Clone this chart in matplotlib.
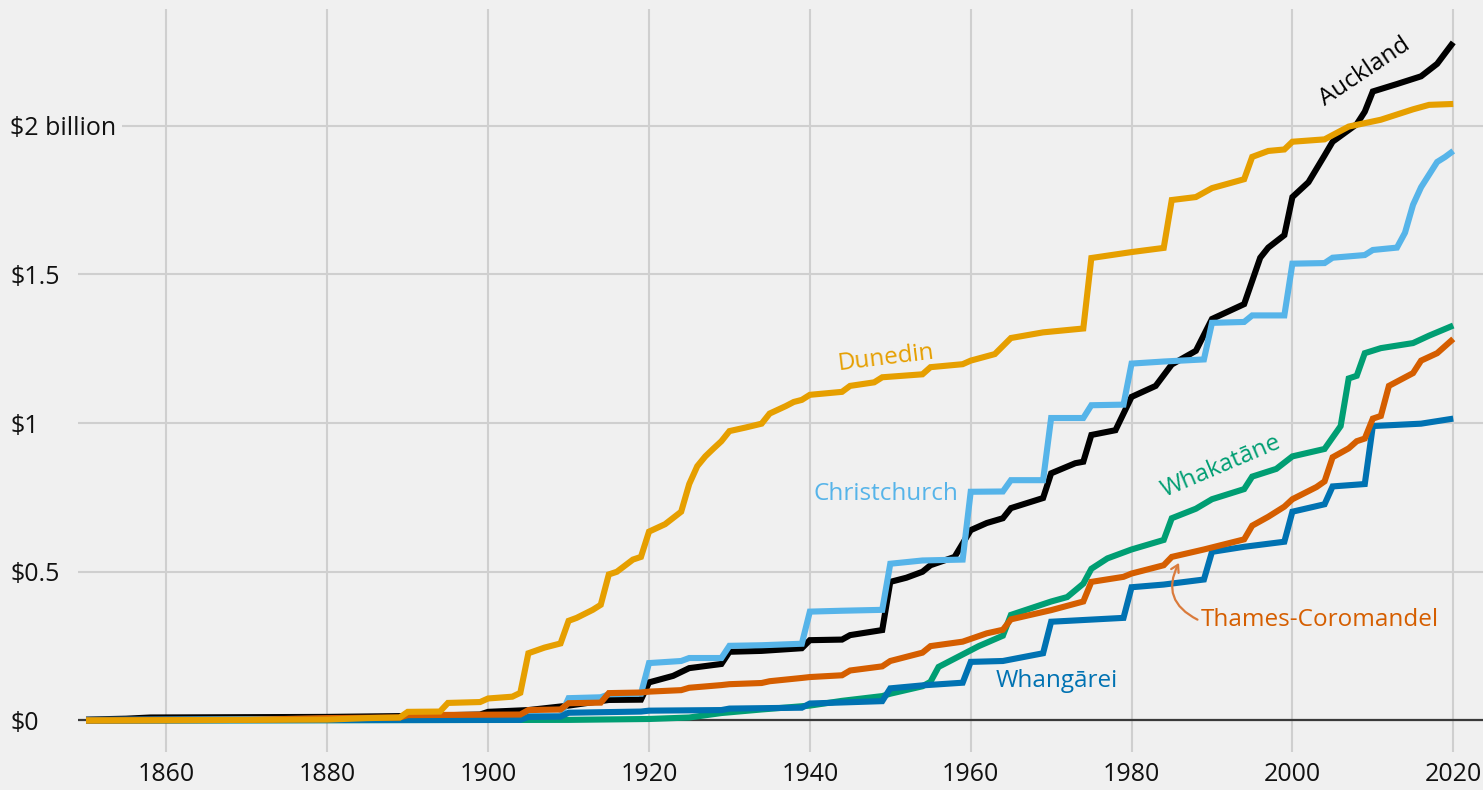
import matplotlib
matplotlib.use("Agg")
import matplotlib.pyplot as plt
from matplotlib.patches import FancyArrowPatch

plt.rcParams['font.family'] = ['Open Sans', 'DejaVu Sans']

# ---- data (year, cumulative value in $ billion) ----
auckland_years = [1850, 1855, 1858, 1880, 1890, 1899, 1900, 1905, 1910, 1915, 1919, 1920, 1923, 1925, 1929, 1930,
                  1934, 1939, 1940, 1944, 1945, 1949, 1950, 1952, 1954, 1955, 1958, 1960, 1962, 1964, 1965, 1969,
                  1970, 1973, 1974, 1975, 1978, 1980, 1983, 1985, 1988, 1990, 1994, 1996, 1997, 1999, 2000, 2002,
                  2004, 2005, 2008, 2009, 2010, 2013, 2016, 2018, 2020]
auckland_vals = [0.003, 0.006, 0.01, 0.012, 0.015, 0.02, 0.029, 0.035, 0.05, 0.069, 0.07, 0.128, 0.15, 0.176, 0.19, 0.231,
                 0.234, 0.243, 0.27, 0.272, 0.287, 0.304, 0.466, 0.48, 0.5, 0.522, 0.55, 0.64, 0.664, 0.68, 0.714, 0.748,
                 0.831, 0.865, 0.87, 0.96, 0.976, 1.088, 1.125, 1.197, 1.243, 1.35, 1.4, 1.556, 1.59, 1.632, 1.76, 1.81,
                 1.9, 1.946, 2.005, 2.047, 2.115, 2.14, 2.166, 2.208, 2.28]

dunedin_years = [1850, 1880, 1885, 1889, 1890, 1894, 1895, 1899, 1900, 1903, 1904, 1905, 1907, 1909, 1910, 1911, 1913,
                 1914, 1915, 1916, 1918, 1919, 1920, 1922, 1924, 1925, 1926, 1927, 1928, 1929, 1930, 1932, 1934, 1935,
                 1937, 1938, 1939, 1940, 1942, 1944, 1945, 1948, 1949, 1954, 1955, 1959, 1960, 1963, 1965, 1969, 1974,
                 1975, 1980, 1984, 1985, 1988, 1990, 1994, 1995, 1997, 1999, 2000, 2004, 2007, 2011, 2015, 2017, 2020]
dunedin_vals = [0.0, 0.003, 0.008, 0.01, 0.029, 0.03, 0.059, 0.062, 0.074, 0.08, 0.093, 0.226, 0.245, 0.259, 0.335, 0.345,
                0.372, 0.389, 0.491, 0.5, 0.541, 0.55, 0.635, 0.66, 0.702, 0.795, 0.855, 0.888, 0.914, 0.939, 0.973,
                0.985, 0.998, 1.032, 1.057, 1.071, 1.078, 1.095, 1.1, 1.105, 1.125, 1.137, 1.154, 1.164, 1.188, 1.198,
                1.21, 1.232, 1.286, 1.305, 1.318, 1.555, 1.575, 1.589, 1.75, 1.76, 1.79, 1.82, 1.895, 1.915, 1.92,
                1.946, 1.954, 1.997, 2.02, 2.055, 2.07, 2.073]

christchurch_years = [1850, 1900, 1905, 1909, 1910, 1914, 1915, 1919, 1920, 1924, 1925, 1929, 1930, 1934, 1939, 1940,
                      1944, 1949, 1950, 1954, 1959, 1960, 1964, 1965, 1969, 1970, 1974, 1975, 1979, 1980, 1984, 1989,
                      1990, 1994, 1995, 1999, 2000, 2004, 2005, 2009, 2010, 2013, 2014, 2015, 2016, 2018, 2019, 2020]
christchurch_vals = [0.002, 0.008, 0.015, 0.016, 0.075, 0.078, 0.088, 0.09, 0.193, 0.2, 0.21, 0.21, 0.251, 0.253, 0.258,
                     0.366, 0.369, 0.372, 0.527, 0.538, 0.541, 0.769, 0.77, 0.808, 0.808, 1.017, 1.017, 1.06, 1.062,
                     1.2, 1.207, 1.214, 1.337, 1.34, 1.362, 1.362, 1.536, 1.538, 1.556, 1.565, 1.582, 1.59, 1.64,
                     1.734, 1.793, 1.878, 1.895, 1.915]

thames_years = [1850, 1870, 1880, 1889, 1890, 1904, 1905, 1909, 1910, 1914, 1915, 1919, 1920, 1924, 1925, 1929, 1930,
                1934, 1935, 1939, 1940, 1944, 1945, 1949, 1950, 1954, 1955, 1959, 1962, 1964, 1965, 1970, 1974, 1975,
                1979, 1980, 1984, 1985, 1989, 1994, 1995, 1997, 1999, 2000, 2003, 2004, 2005, 2007, 2008, 2009, 2010,
                2011, 2012, 2015, 2016, 2018, 2020]
thames_vals = [0.0, 0.002, 0.008, 0.01, 0.018, 0.02, 0.035, 0.037, 0.058, 0.06, 0.092, 0.094, 0.097, 0.102, 0.11, 0.119,
               0.122, 0.126, 0.132, 0.143, 0.146, 0.152, 0.168, 0.182, 0.2, 0.228, 0.25, 0.265, 0.293, 0.305, 0.34,
               0.371, 0.4, 0.466, 0.483, 0.494, 0.522, 0.55, 0.575, 0.609, 0.655, 0.685, 0.719, 0.744, 0.785, 0.804,
               0.885, 0.915, 0.939, 0.948, 1.015, 1.024, 1.125, 1.168, 1.21, 1.235, 1.283]

whakatane_years = [1850, 1910, 1920, 1925, 1929, 1934, 1940, 1944, 1949, 1950, 1954, 1955, 1956, 1959, 1961, 1964,
                   1965, 1970, 1972, 1974, 1975, 1977, 1980, 1984, 1985, 1988, 1990, 1994, 1995, 1998, 2000, 2004,
                   2006, 2007, 2008, 2009, 2011, 2015, 2017, 2020]
whakatane_vals = [0.0, 0.002, 0.005, 0.01, 0.025, 0.037, 0.05, 0.066, 0.082, 0.09, 0.115, 0.13, 0.18, 0.222, 0.25, 0.285,
                  0.355, 0.4, 0.415, 0.46, 0.51, 0.545, 0.575, 0.607, 0.68, 0.712, 0.744, 0.778, 0.82, 0.846, 0.888,
                  0.913, 0.99, 1.15, 1.159, 1.235, 1.252, 1.269, 1.294, 1.328]

whangarei_years = [1850, 1904, 1905, 1909, 1910, 1919, 1920, 1929, 1930, 1939, 1940, 1949, 1950, 1954, 1959, 1960,
                   1964, 1969, 1970, 1979, 1980, 1984, 1989, 1990, 1994, 1999, 2000, 2004, 2005, 2009, 2010, 2016, 2020]
whangarei_vals = [0.0, 0.002, 0.012, 0.013, 0.026, 0.03, 0.033, 0.035, 0.04, 0.043, 0.057, 0.065, 0.108, 0.118, 0.127,
                  0.197, 0.2, 0.226, 0.332, 0.345, 0.448, 0.457, 0.474, 0.567, 0.584, 0.601, 0.702, 0.727, 0.787,
                  0.795, 0.99, 0.998, 1.015]

x_ticks = [1860, 1880, 1900, 1920, 1940, 1960, 1980, 2000, 2020]
y_ticks = [0, 0.5, 1, 1.5, 2]
y_tick_labels = ["$0", "$0.5", "$1", "$1.5", "$2 billion"]

# ---- styling ----
BG = "#f0f0f0"
GRID = "#cfcfcf"
C_AUCK = "#000000"
C_DUN = "#E69F00"
C_CHCH = "#56B4E9"
C_WHAK = "#009E73"
C_THAM = "#D55E00"
C_WHAN = "#0072B2"

W, H = 1483, 790
fig = plt.figure(figsize=(W / 100, H / 100), dpi=100, facecolor=BG)
ax_left, ax_right, ax_top, ax_bottom = 78, 1483, 8.5, 752
ax = fig.add_axes([ax_left / W, 1 - ax_bottom / H, (ax_right - ax_left) / W, (ax_bottom - ax_top) / H])
ax.set_facecolor(BG)
for s in ax.spines.values():
    s.set_visible(False)

ax.set_xlim(1849.0, 2023.7)
ax.set_ylim(-0.106, 2.394)

ax.set_axisbelow(True)
ax.grid(True, color=GRID, linewidth=1.5)
ax.set_xticks(x_ticks)
ax.set_xticklabels([str(t) for t in x_ticks])
ax.set_yticks(y_ticks)
ax.set_yticklabels(y_tick_labels)
ax.tick_params(axis='both', length=0, labelsize=18, colors='#111111')
ax.tick_params(axis='x', pad=7)
ax.tick_params(axis='y', pad=(ax_left - 10) * 0.72)
for lbl in ax.get_yticklabels():
    lbl.set_horizontalalignment('left')
    lbl.set_bbox(dict(facecolor=BG, edgecolor='none', pad=4))

ax.axhline(0, color='#3a3a3a', linewidth=1.6, zorder=1)

LW = 4.4
series = [
    (auckland_years, auckland_vals, C_AUCK),
    (christchurch_years, christchurch_vals, C_CHCH),
    (whakatane_years, whakatane_vals, C_WHAK),
    (whangarei_years, whangarei_vals, C_WHAN),
    (thames_years, thames_vals, C_THAM),
    (dunedin_years, dunedin_vals, C_DUN),
]
for xs, ys, c in series:
    ax.plot(xs, ys, color=c, linewidth=LW, solid_joinstyle='miter', solid_capstyle='butt', zorder=3)

FS = 17.5
ax.text(2009.0, 2.18, "Auckland", color=C_AUCK, fontsize=FS, rotation=34,
        ha='center', va='center', rotation_mode='anchor')
ax.text(1949.6, 1.200, "Dunedin", color=C_DUN, fontsize=FS, rotation=7,
        ha='center', va='baseline', rotation_mode='anchor')
ax.text(1949.5, 0.7426, "Christchurch", color=C_CHCH, fontsize=FS,
        ha='center', va='baseline')
ax.text(1991.2, 0.855, "Whakatāne", color=C_WHAK, fontsize=FS, rotation=23,
        ha='center', va='center', rotation_mode='anchor')
ax.text(1970.7, 0.111, "Whangārei", color=C_WHAN, fontsize=FS,
        ha='center', va='baseline')
ax.text(1988.66, 0.3375, "Thames-Coromandel", color=C_THAM, fontsize=FS,
        ha='left', va='center')

arrow = FancyArrowPatch((1988.2, 0.339), (1985.9, 0.53),
                        connectionstyle="arc3,rad=-0.5", arrowstyle="->,head_length=5,head_width=3",
                        color="#DA7B3C", linewidth=1.6, shrinkA=0, shrinkB=0, zorder=4)
ax.add_patch(arrow)

fig.savefig("out.png", dpi=100, facecolor=BG)
